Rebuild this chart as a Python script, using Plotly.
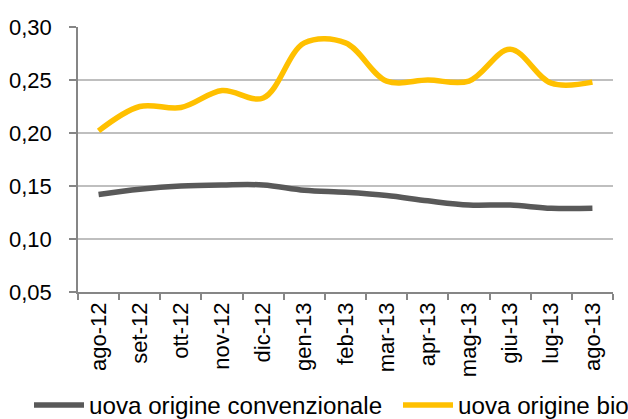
import plotly.graph_objects as go

months = ["ago-12", "set-12", "ott-12", "nov-12", "dic-12", "gen-13", "feb-13",
          "mar-13", "apr-13", "mag-13", "giu-13", "lug-13", "ago-13"]
convenzionale = [0.142, 0.147, 0.150, 0.151, 0.151, 0.146, 0.144,
                 0.141, 0.136, 0.132, 0.132, 0.129, 0.129]
bio = [0.202, 0.225, 0.224, 0.240, 0.233, 0.285, 0.285,
       0.249, 0.250, 0.249, 0.279, 0.247, 0.248]

FONT = "Arial, 'Liberation Sans', sans-serif"

fig = go.Figure()
fig.add_trace(go.Scatter(x=months, y=convenzionale, mode="lines",
                         name="uova origine convenzionale", legend="legend",
                         line=dict(color="#595959", width=5.5, shape="spline", smoothing=1)))
fig.add_trace(go.Scatter(x=months, y=bio, mode="lines",
                         name="uova origine bio", legend="legend2",
                         line=dict(color="#FFC000", width=5.5, shape="spline", smoothing=1)))

PLOT_L, PLOT_W = 78, 535
leg_common = dict(orientation="h", xanchor="left", y=-0.4275, yanchor="middle",
                  font=dict(size=24.2), bgcolor="rgba(0,0,0,0)", itemwidth=50)

fig.update_layout(
    width=628, height=419,
    margin=dict(l=78, r=15, t=27, b=127, autoexpand=False),
    paper_bgcolor="white", plot_bgcolor="white",
    separators=", ",
    font=dict(family=FONT, size=22, color="black"),
    showlegend=True,
    legend=dict(x=(29 - PLOT_L) / PLOT_W, **leg_common),
    legend2=dict(x=(398 - PLOT_L) / PLOT_W, **leg_common),
)
fig.update_xaxes(
    type="category", tickangle=-90, tickson="boundaries", range=[-0.5, 12.5],
    ticks="outside", ticklen=6, tickcolor="#868686", tickwidth=1.5,
    showline=True, linecolor="#868686", linewidth=1.5,
    showgrid=False, tickfont=dict(size=22), automargin=False,
)
fig.update_yaxes(
    range=[0.05, 0.30], dtick=0.05, tick0=0.05, tickformat=".2f",
    ticks="outside", ticklen=7, tickcolor="#868686", tickwidth=1.5,
    showline=True, linecolor="#868686", linewidth=1.5,
    showgrid=True, gridcolor="#BFBFBF", gridwidth=1.5,
    zeroline=False, tickfont=dict(size=22), ticklabelstandoff=13,
    automargin=False,
)

fig.write_html("out.html", config={"displayModeBar": False},
               post_script="document.body.style.margin='0';document.body.style.overflow='hidden';")
